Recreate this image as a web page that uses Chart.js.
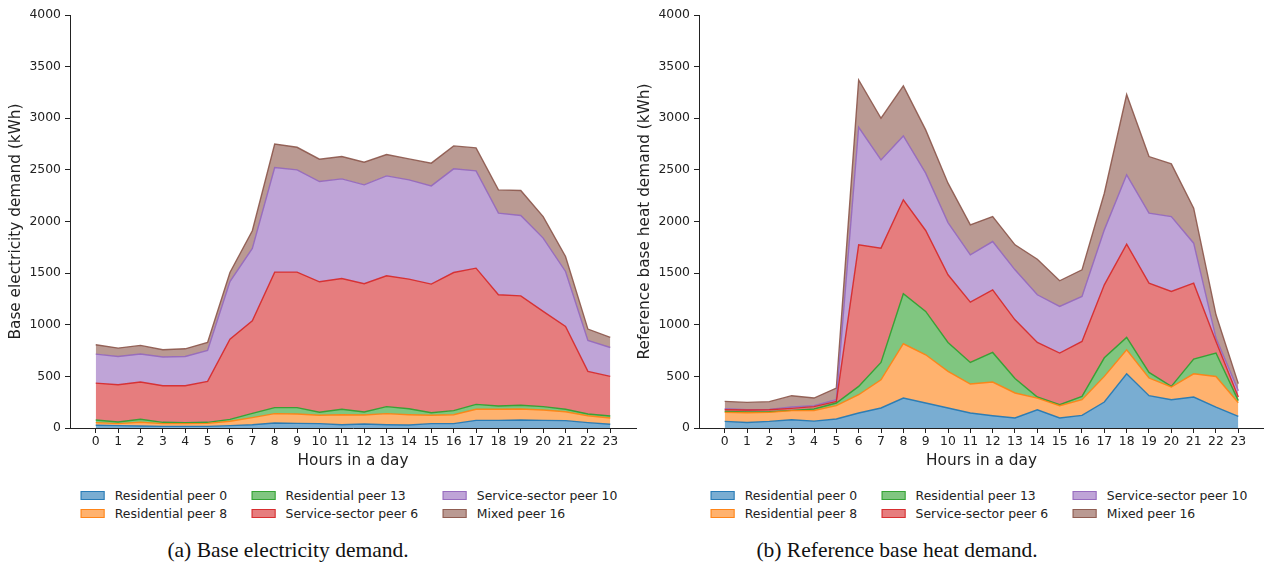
<!DOCTYPE html>
<html><head><meta charset="utf-8">
<script src="https://cdn.jsdelivr.net/npm/chart.js@4.4.1/dist/chart.umd.min.js"></script>
<style>
html,body{margin:0;padding:0;background:#fff;width:1264px;height:571px;overflow:hidden;position:relative;font-family:'DejaVu Sans',sans-serif;}
canvas{position:absolute;top:0;}
#cL{left:0;} #cR{left:630px;}
.legend{position:absolute;top:486px;display:grid;grid-auto-flow:column;grid-template-rows:18px 18px;column-gap:24.4px;transform:translateX(-50%);font:12.4px 'DejaVu Sans',sans-serif;color:#222;white-space:nowrap;}
.item{display:flex;align-items:center;}
.swatch{width:24.4px;height:9px;box-sizing:border-box;margin-right:9.8px;}
.caption{position:absolute;top:538px;transform:translateX(-50%);font:21.5px 'Liberation Serif',serif;color:#111;white-space:nowrap;line-height:24px;}
</style></head><body>
<canvas id="cL" width="640" height="475"></canvas>
<canvas id="cR" width="634" height="475"></canvas>
<div class="legend" id="legL" style="left:349px"></div>
<div class="legend" id="legR" style="left:979px"></div>
<div class="caption" style="left:288px">(a) Base electricity demand.</div>
<div class="caption" style="left:897px">(b) Reference base heat demand.</div>
<script>
// ---- data ----
const hours = [0,1,2,3,4,5,6,7,8,9,10,11,12,13,14,15,16,17,18,19,20,21,22,23];
const yTickValues = [0,500,1000,1500,2000,2500,3000,3500,4000];
const seriesNames = ['Residential peer 0','Residential peer 8','Residential peer 13','Service-sector peer 6','Service-sector peer 10','Mixed peer 16'];

// (a) Base electricity demand (kWh)
const elecRes0  = [26,23,19,16,16,16,23,32,48,45,42,32,39,32,29,42,42,74,74,77,74,71,52,36];
const elecRes8  = [26,19,36,26,26,29,42,68,91,91,81,97,87,107,100,81,87,107,107,107,100,87,67,61];
const elecRes13 = [25,16,29,13,10,10,19,42,58,61,29,52,29,68,58,25,39,48,32,36,33,23,17,19];
const elecSvc6  = [358,361,361,354,357,396,777,896,1313,1313,1264,1267,1242,1267,1255,1246,1338,1319,1077,1060,922,802,412,384];
const elecSvc10 = [281,274,271,278,284,300,558,702,1012,990,971,965,958,968,961,951,1004,942,791,778,710,533,300,280];
const elecMix16 = [90,81,84,71,74,78,87,170,229,219,216,216,219,206,203,220,222,223,225,242,209,145,110,97];

// (b) Reference base heat demand (kWh)
const heatRes0  = [64,54,64,80,67,87,145,194,290,242,194,145,119,97,177,97,122,252,525,313,274,300,203,113];
const heatRes8  = [87,94,87,88,103,129,177,273,526,467,354,281,326,242,113,119,152,248,233,171,123,225,296,132];
const heatRes13 = [10,7,7,3,14,26,81,168,484,420,281,209,287,141,10,10,32,180,119,54,6,143,227,20];
const heatSvc6  = [16,19,19,19,23,16,1371,1107,910,784,655,584,606,568,529,500,532,707,904,865,919,735,112,35];
const heatSvc10 = [10,3,3,13,9,16,1139,855,619,555,506,458,468,484,461,451,436,532,671,678,726,387,33,60];
const heatMix16 = [71,71,75,110,74,113,458,403,484,419,381,291,242,242,345,249,258,355,778,548,510,339,225,70];

// ---- style ----
const seriesColors = ['#1f77b4','#ff7f0e','#2ca02c','#d62728','#9467bd','#8c564b'];
function rgba(hex,a){const n=parseInt(hex.slice(1),16);return `rgba(${n>>16},${(n>>8)&255},${n&255},${a})`;}
Chart.defaults.font.family = "'DejaVu Sans', sans-serif";
const axisColor = '#222';

function makeChart(id, series, yTitle, o){
  const datasets = series.map((vals,i)=>({
    label: seriesNames[i],
    data: vals.map((v,j)=>({x:hours[j], y:v})),
    borderColor: rgba(seriesColors[i],0.9),
    backgroundColor: rgba(seriesColors[i],0.6),
    borderWidth: 1.4,
    pointRadius: 0, pointHoverRadius: 0,
    tension: 0,
    fill: i===0 ? 'origin' : '-1'
  }));
  const gridOpt = {display:true, drawOnChartArea:false, drawTicks:true, tickLength:5, color:axisColor, lineWidth:1};
  const borderOpt = {display:true, color:axisColor, width:1};
  return new Chart(document.getElementById(id), {
    type:'line',
    data:{datasets},
    options:{
      responsive:false, animation:false, devicePixelRatio:1,
      layout:{padding:{top:15,left:0,right:o.padRight,bottom:0}},
      plugins:{legend:{display:false}, tooltip:{enabled:false}},
      scales:{
        x:{type:'linear', min:-1.15, max:24.15,
          afterBuildTicks: s => { s.ticks = hours.map(h=>({value:h})); },
          afterFit: s => { s.height = 47; },
          ticks:{font:{size:12.4}, color:axisColor, padding:1, maxRotation:0, autoSkip:false, callback:v=>String(v)},
          grid:gridOpt, border:borderOpt,
          title:{display:true, text:'Hours in a day', font:{size:15.3}, color:axisColor, padding:{top:0,bottom:4.8}}
        },
        y:{type:'linear', stacked:true, min:0, max:4000,
          afterBuildTicks: s => { s.ticks = yTickValues.map(v=>({value:v})); },
          afterFit: s => { s.width = o.yWidth; },
          ticks:{font:{size:12.4}, color:axisColor, padding:4, callback:v=>String(v)},
          grid:gridOpt, border:borderOpt,
          title:{display:true, text:yTitle, font:{size:15.3}, color:axisColor, padding:{top:o.titlePad,bottom:0}}
        }
      }
    }
  });
}

function buildLegend(chart, elId){
  const el = document.getElementById(elId);
  chart.data.datasets.forEach(ds=>{
    const it = document.createElement('div'); it.className='item';
    const sw = document.createElement('span'); sw.className='swatch';
    sw.style.background = ds.backgroundColor; sw.style.border = '1px solid '+ds.borderColor;
    const tx = document.createElement('span'); tx.textContent = ds.label;
    it.appendChild(sw); it.appendChild(tx); el.appendChild(it);
  });
}

const chartL = makeChart('cL', [elecRes0,elecRes8,elecRes13,elecSvc6,elecSvc10,elecMix16], 'Base electricity demand (kWh)', {padRight:4, yWidth:70, titlePad:7});
const chartR = makeChart('cR', [heatRes0,heatRes8,heatRes13,heatSvc6,heatSvc10,heatMix16], 'Reference base heat demand (kWh)', {padRight:0, yWidth:69, titlePad:5.8});
buildLegend(chartL,'legL');
buildLegend(chartR,'legR');
</script>
</body></html>
